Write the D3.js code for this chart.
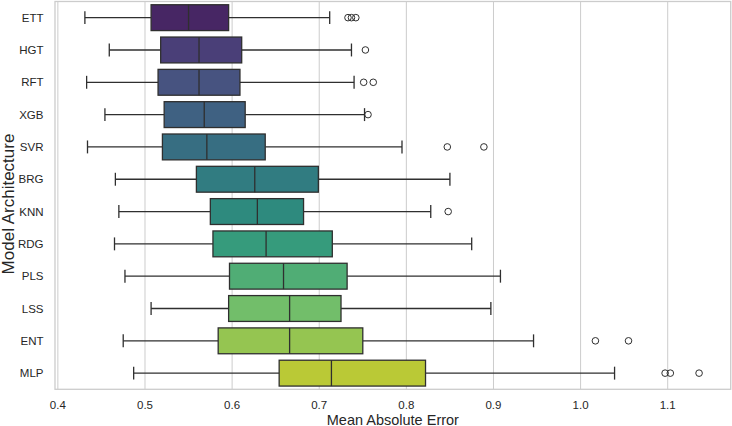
<!DOCTYPE html>
<html>
<head>
<meta charset="utf-8">
<script src="https://cdn.jsdelivr.net/npm/d3@7"></script>
<style>
    body { margin: 0; background: #fff; }
    svg { display: block; font-family: "Liberation Sans", Arial, sans-serif; }
</style>
</head>
<body>
<div id="chart"></div>
<script>
// Box statistics, one entry per model
const categories = ['ETT', 'HGT', 'RFT', 'XGB', 'SVR', 'BRG', 'KNN', 'RDG', 'PLS', 'LSS', 'ENT', 'MLP'];
const whiskerLow  = [0.431, 0.459, 0.433, 0.454, 0.434, 0.466, 0.470, 0.465, 0.477, 0.507, 0.475, 0.487];
const q1          = [0.507, 0.518, 0.515, 0.522, 0.520, 0.559, 0.575, 0.578, 0.597, 0.596, 0.584, 0.654];
const median      = [0.550, 0.562, 0.562, 0.568, 0.571, 0.626, 0.629, 0.639, 0.659, 0.666, 0.666, 0.714];
const q3          = [0.596, 0.611, 0.609, 0.615, 0.638, 0.699, 0.682, 0.715, 0.732, 0.725, 0.750, 0.822];
const whiskerHigh = [0.712, 0.737, 0.740, 0.752, 0.795, 0.850, 0.828, 0.875, 0.908, 0.897, 0.946, 1.039];
const outliers = [
    [0.733, 0.737, 0.742],
    [0.753],
    [0.751, 0.762],
    [0.756],
    [0.847, 0.889],
    [],
    [0.848],
    [],
    [],
    [],
    [1.017, 1.055],
    [1.097, 1.103, 1.136]
];
const xTicks = [0.4, 0.5, 0.6, 0.7, 0.8, 0.9, 1.0, 1.1];

const width = 732, height = 426;
const margin = { top: 1.5, right: 1.3, bottom: 36.7, left: 55 };

const svg = d3.select('#chart').append('svg')
    .attr('width', width)
    .attr('height', height);

const x = d3.scaleLinear()
    .domain([0.3967, 1.1723])
    .range([margin.left, width - margin.right]);

const y = d3.scaleBand()
    .domain(categories)
    .range([margin.top, height - margin.bottom]);

// seaborn-like viridis palette, desaturated for boxes
const colors = categories.map((d, i) => {
    const c = d3.hsl(d3.interpolateViridis((i + 1) / (categories.length + 1)));
    c.s *= 0.75;
    return c.formatHex();
});
const lineColor = '#2f2f2f';
const gridColor = '#cccccc';
const textColor = '#262626';

// grid lines
svg.append('g')
    .selectAll('line')
    .data(xTicks)
    .enter().append('line')
    .attr('x1', d => x(d)).attr('x2', d => x(d))
    .attr('y1', margin.top).attr('y2', height - margin.bottom)
    .attr('stroke', gridColor)
    .attr('stroke-width', 1);

// frame
svg.append('rect')
    .attr('x', margin.left)
    .attr('y', margin.top)
    .attr('width', width - margin.right - margin.left)
    .attr('height', height - margin.bottom - margin.top)
    .attr('fill', 'none')
    .attr('stroke', gridColor)
    .attr('stroke-width', 1.3);

const boxH = y.bandwidth() * 0.8;
const capH = boxH * 0.5;

const rows = svg.append('g')
    .selectAll('g')
    .data(categories)
    .enter().append('g')
    .attr('transform', d => `translate(0,${y(d) + y.bandwidth() / 2})`);

// whiskers
rows.append('line')
    .attr('x1', (d, i) => x(whiskerLow[i])).attr('x2', (d, i) => x(q1[i]))
    .attr('stroke', lineColor).attr('stroke-width', 1.3);
rows.append('line')
    .attr('x1', (d, i) => x(q3[i])).attr('x2', (d, i) => x(whiskerHigh[i]))
    .attr('stroke', lineColor).attr('stroke-width', 1.3);

// caps
rows.append('line')
    .attr('x1', (d, i) => x(whiskerLow[i])).attr('x2', (d, i) => x(whiskerLow[i]))
    .attr('y1', -capH / 2).attr('y2', capH / 2)
    .attr('stroke', lineColor).attr('stroke-width', 1.3);
rows.append('line')
    .attr('x1', (d, i) => x(whiskerHigh[i])).attr('x2', (d, i) => x(whiskerHigh[i]))
    .attr('y1', -capH / 2).attr('y2', capH / 2)
    .attr('stroke', lineColor).attr('stroke-width', 1.3);

// boxes
rows.append('rect')
    .attr('x', (d, i) => x(q1[i]))
    .attr('width', (d, i) => x(q3[i]) - x(q1[i]))
    .attr('y', -boxH / 2)
    .attr('height', boxH)
    .attr('fill', (d, i) => colors[i])
    .attr('stroke', lineColor)
    .attr('stroke-width', 1.3);

// medians
rows.append('line')
    .attr('x1', (d, i) => x(median[i])).attr('x2', (d, i) => x(median[i]))
    .attr('y1', -boxH / 2).attr('y2', boxH / 2)
    .attr('stroke', lineColor).attr('stroke-width', 1.3);

// outliers
rows.each(function (d, i) {
    d3.select(this).selectAll('circle')
        .data(outliers[i])
        .enter().append('circle')
        .attr('cx', v => x(v))
        .attr('cy', 0)
        .attr('r', 3.3)
        .attr('fill', 'none')
        .attr('stroke', lineColor)
        .attr('stroke-width', 1);
});

// y tick labels
svg.append('g')
    .selectAll('text')
    .data(categories)
    .enter().append('text')
    .attr('x', 43.5)
    .attr('y', d => y(d) + y.bandwidth() / 2)
    .attr('dy', '0.35em')
    .attr('text-anchor', 'end')
    .attr('font-size', 11.5)
    .attr('fill', textColor)
    .text(d => d);

// x tick labels
svg.append('g')
    .selectAll('text')
    .data(xTicks)
    .enter().append('text')
    .attr('x', d => x(d))
    .attr('y', 408.5)
    .attr('text-anchor', 'middle')
    .attr('font-size', 11.5)
    .attr('fill', textColor)
    .text(d => d.toFixed(1));

// axis titles
svg.append('text')
    .attr('x', (margin.left + width - margin.right) / 2)
    .attr('y', 424.5)
    .attr('text-anchor', 'middle')
    .attr('font-size', 14.5)
    .attr('fill', textColor)
    .text('Mean Absolute Error');

svg.append('text')
    .attr('transform', 'translate(13.5,204) rotate(-90)')
    .attr('text-anchor', 'middle')
    .attr('font-size', 17)
    .attr('fill', textColor)
    .text('Model Architecture');
</script>
</body>
</html>
